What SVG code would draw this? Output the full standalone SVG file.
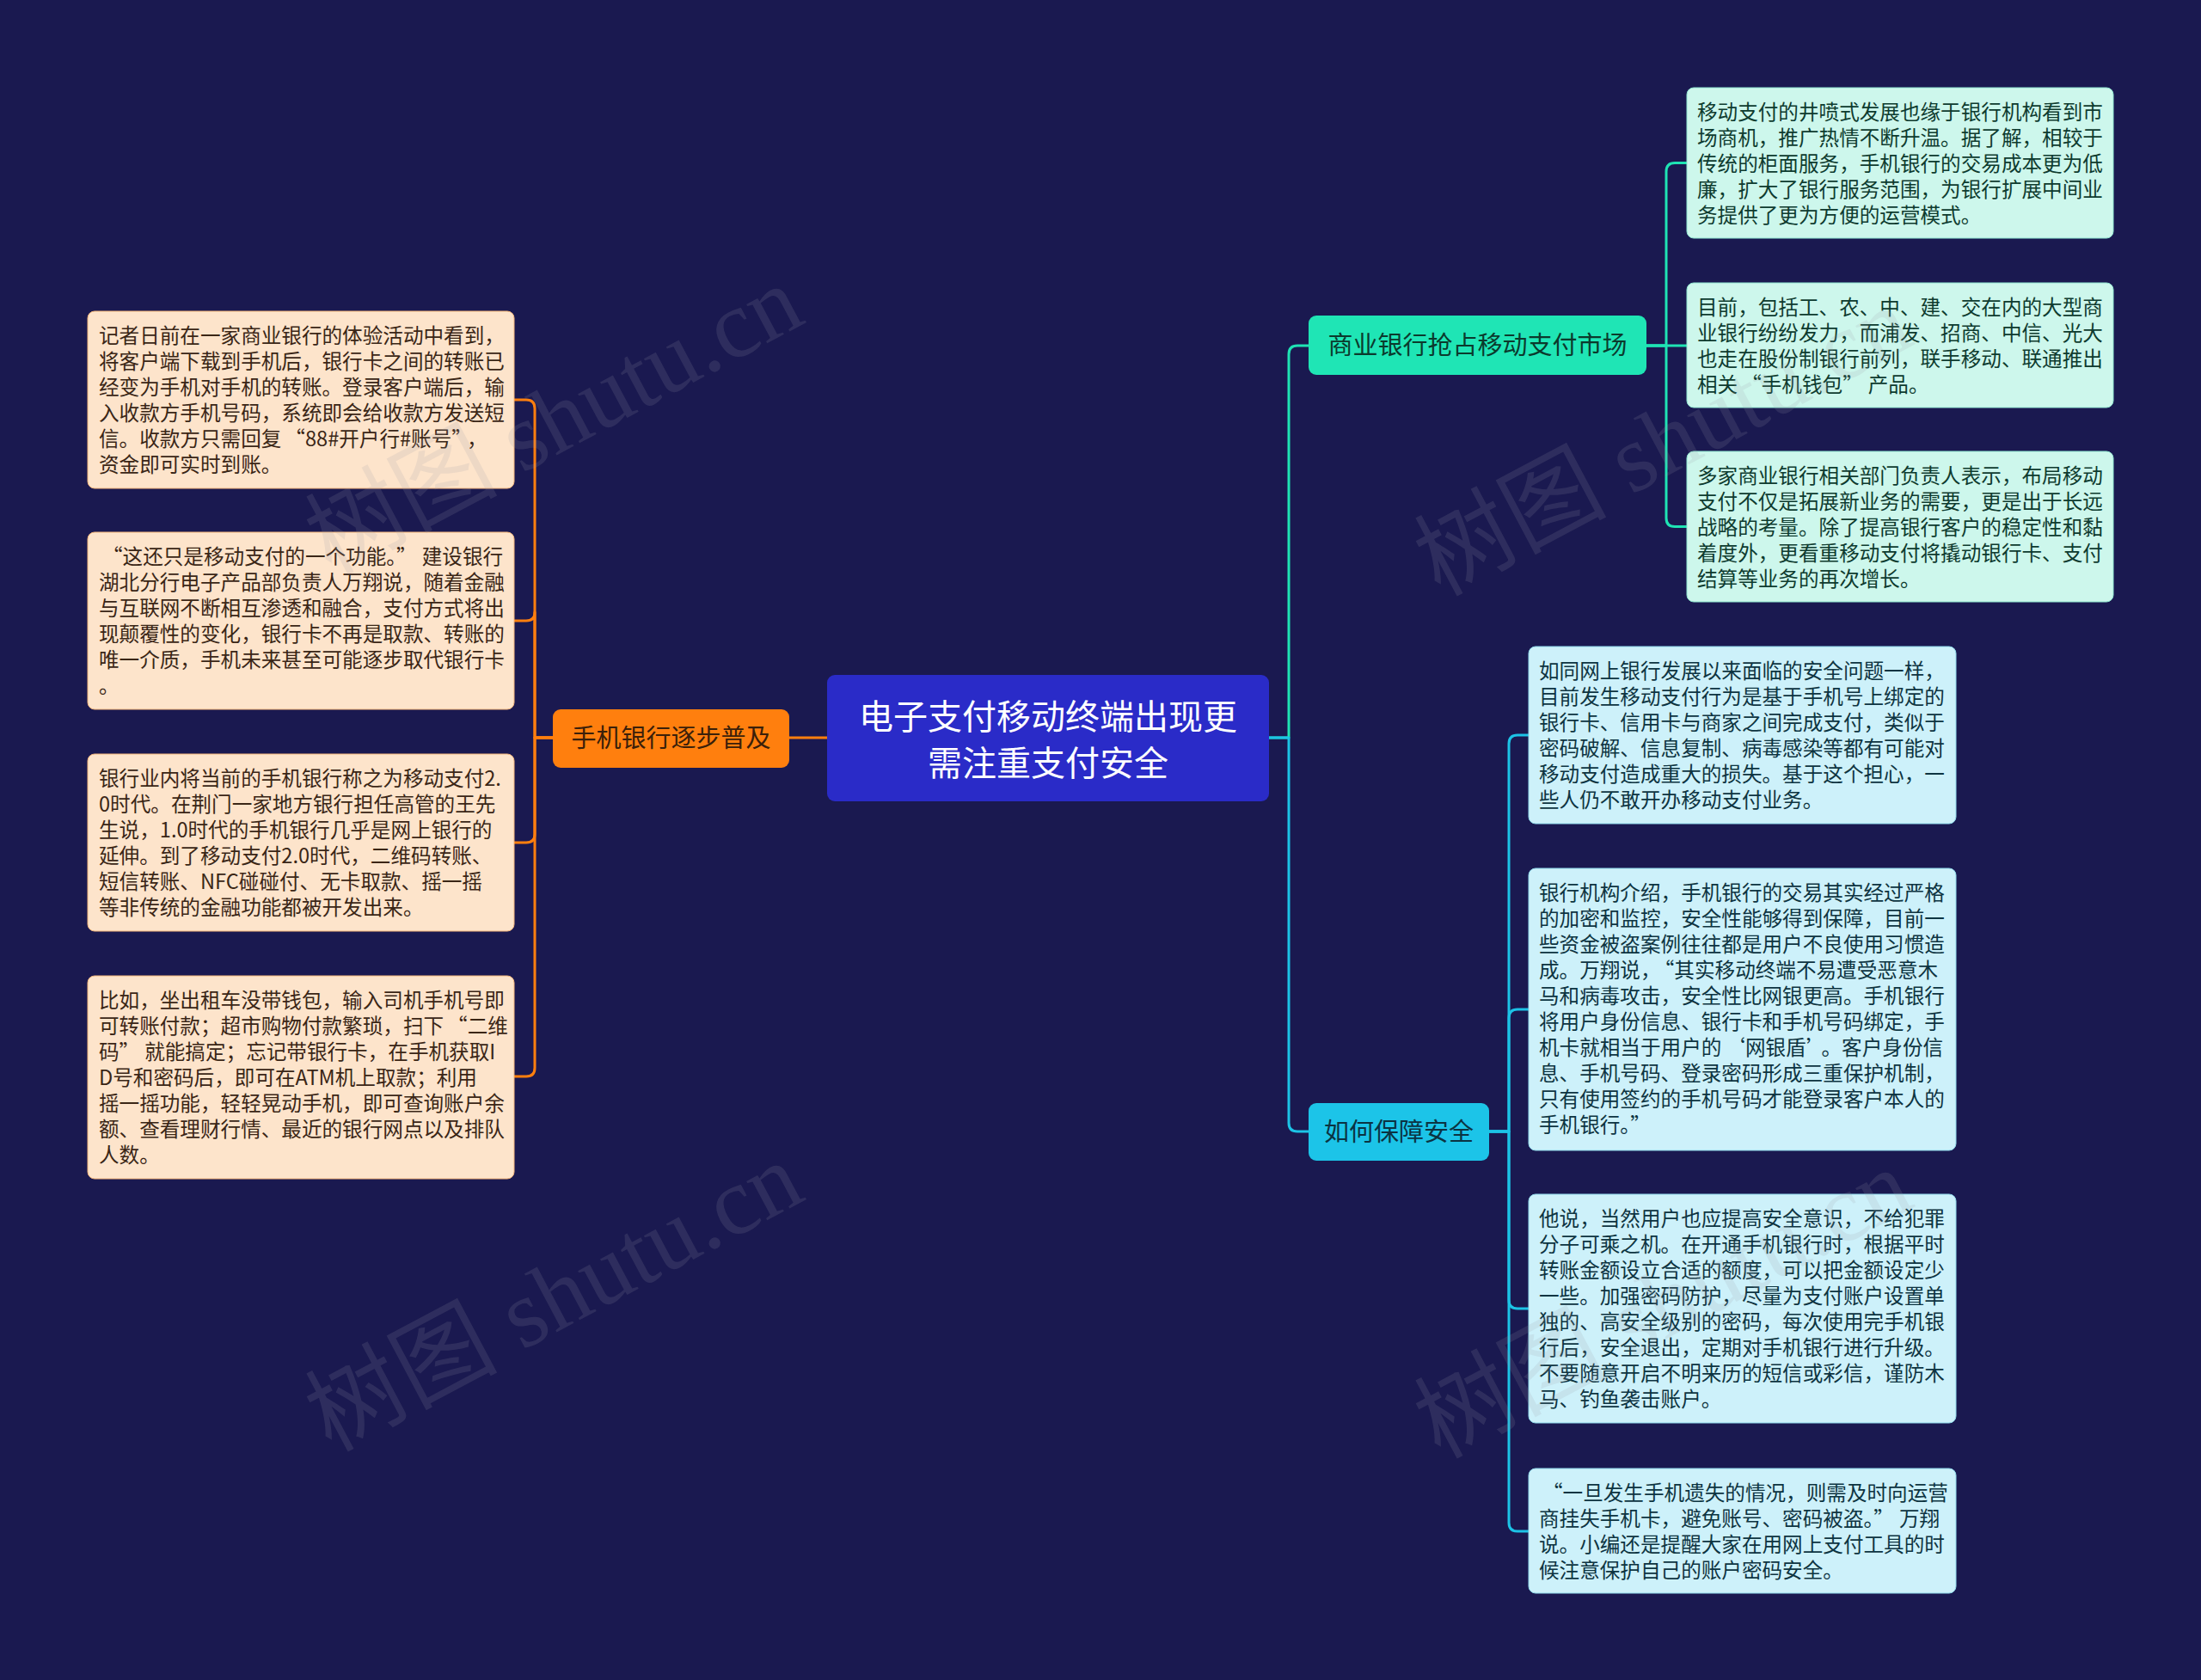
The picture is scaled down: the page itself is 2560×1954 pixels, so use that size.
<svg xmlns="http://www.w3.org/2000/svg" width="2560" height="1954" viewBox="0 0 2560 1954">
<style>
.t{font-family:"Noto Sans CJK SC","Noto Sans",sans-serif;font-size:23.6px}
.lt{fill:#3a2616}
.ut{fill:#0e3b2f}
.dt{fill:#0d3441}
.lb{fill:#fde4cb;stroke:#f3b57a;stroke-width:1}
.ub{fill:#cdf7ec;stroke:#8fe6cf;stroke-width:1}
.db{fill:#cdf1fa;stroke:#8fd9ea;stroke-width:1}
.c{fill:none;stroke-width:3;stroke-linecap:round;stroke-linejoin:round}
.co{stroke:#ff7f0e}
.cg{stroke:#1fe3b4}
.cc{stroke:#1cc3e6}
.wm{font-family:"Liberation Serif","Noto Sans CJK SC",serif;font-size:112px;fill:#9a9aa8;fill-opacity:0.16}
</style>
<rect width="2560" height="1954" fill="#1a1950"/>
<g id="connectors">
<path class="c co" d="M962 858H918"/>
<path class="c co" d="M643 858H622V475Q622 465 612 465H598"/>
<path class="c co" d="M643 858H622V712Q622 722 612 722H598"/>
<path class="c co" d="M643 858H622V970Q622 980 612 980H598"/>
<path class="c co" d="M643 858H622V1242Q622 1252 612 1252H598"/>
<path class="c cg" d="M1476 858H1499V412Q1499 402 1509 402H1522"/>
<path class="c cc" d="M1476 858H1499V1306Q1499 1316 1509 1316H1522"/>
<path class="c cg" d="M1915 402H1938V199.5Q1938 189.5 1948 189.5H1962"/>
<path class="c cg" d="M1915 402H1962"/>
<path class="c cg" d="M1915 402H1938V602.5Q1938 612.5 1948 612.5H1962"/>
<path class="c cc" d="M1732 1316H1755V865Q1755 855 1765 855H1778"/>
<path class="c cc" d="M1732 1316H1755V1184Q1755 1174 1765 1174H1778"/>
<path class="c cc" d="M1732 1316H1755V1512Q1755 1522 1765 1522H1778"/>
<path class="c cc" d="M1732 1316H1755V1771Q1755 1781 1765 1781H1778"/>
</g>
<g id="center">
<rect x="962" y="785" width="514" height="147" rx="9" fill="#2a2bc8"/>
<text font-family="Noto Sans CJK SC,sans-serif" font-size="40" fill="#ffffff" text-anchor="middle"><tspan x="1219" y="848">电子支付移动终端出现更</tspan><tspan x="1219" y="902">需注重支付安全</tspan></text>
</g>
<g id="branch-left">
<rect x="643" y="825" width="275" height="68" rx="9" fill="#ff7f0e"/>
<text x="780.5" y="869" font-family="Noto Sans CJK SC,sans-serif" font-size="29" fill="#3a200a" text-anchor="middle">手机银行逐步普及</text>
</g>
<g id="branch-r1">
<rect x="1522" y="367" width="393" height="69" rx="9" fill="#1fe5b5"/>
<text x="1718.5" y="412" font-family="Noto Sans CJK SC,sans-serif" font-size="29" fill="#0b3a2d" text-anchor="middle">商业银行抢占移动支付市场</text>
</g>
<g id="branch-r2">
<rect x="1522" y="1283" width="210" height="67" rx="9" fill="#1cc4e8"/>
<text x="1627" y="1327" font-family="Noto Sans CJK SC,sans-serif" font-size="29" fill="#0b3342" text-anchor="middle">如何保障安全</text>
</g>
<g id="l1">
<rect class="lb" x="102" y="362" width="496" height="206" rx="8"/>
<text class="t lt"><tspan x="115" y="399">记者日前在一家商业银行的体验活动中看到，</tspan><tspan x="115" dy="30">将客户端下载到手机后，银行卡之间的转账已</tspan><tspan x="115" dy="30">经变为手机对手机的转账。登录客户端后，输</tspan><tspan x="115" dy="30">入收款方手机号码，系统即会给收款方发送短</tspan><tspan x="115" dy="30">信。收款方只需回复<tspan dx="4">“</tspan>88#开户行#账号”<tspan dx="6">，</tspan></tspan><tspan x="115" dy="30">资金即可实时到账。</tspan></text>
</g>
<g id="l2">
<rect class="lb" x="102" y="619" width="496" height="206" rx="8"/>
<text class="t lt"><tspan x="115" y="656"><tspan dx="4">“</tspan>这还只是移动支付的一个功能。”<tspan dx="6">建设银行</tspan></tspan><tspan x="115" dy="30">湖北分行电子产品部负责人万翔说，随着金融</tspan><tspan x="115" dy="30">与互联网不断相互渗透和融合，支付方式将出</tspan><tspan x="115" dy="30">现颠覆性的变化，银行卡不再是取款、转账的</tspan><tspan x="115" dy="30">唯一介质，手机未来甚至可能逐步取代银行卡</tspan><tspan x="115" dy="30">。</tspan></text>
</g>
<g id="l3">
<rect class="lb" x="102" y="877" width="496" height="206" rx="8"/>
<text class="t lt"><tspan x="115" y="914">银行业内将当前的手机银行称之为移动支付2.</tspan><tspan x="115" dy="30">0时代。在荆门一家地方银行担任高管的王先</tspan><tspan x="115" dy="30">生说，1.0时代的手机银行几乎是网上银行的</tspan><tspan x="115" dy="30">延伸。到了移动支付2.0时代，二维码转账、</tspan><tspan x="115" dy="30">短信转账、NFC碰碰付、无卡取款、摇一摇</tspan><tspan x="115" dy="30">等非传统的金融功能都被开发出来。</tspan></text>
</g>
<g id="l4">
<rect class="lb" x="102" y="1135" width="496" height="236" rx="8"/>
<text class="t lt"><tspan x="115" y="1172">比如，坐出租车没带钱包，输入司机手机号即</tspan><tspan x="115" dy="30">可转账付款；超市购物付款繁琐，扫下<tspan dx="4">“</tspan>二维</tspan><tspan x="115" dy="30">码”<tspan dx="6">就能搞定；忘记带银行卡，在手机获取I</tspan></tspan><tspan x="115" dy="30">D号和密码后，即可在ATM机上取款；利用</tspan><tspan x="115" dy="30">摇一摇功能，轻轻晃动手机，即可查询账户余</tspan><tspan x="115" dy="30">额、查看理财行情、最近的银行网点以及排队</tspan><tspan x="115" dy="30">人数。</tspan></text>
</g>
<g id="ra">
<rect class="ub" x="1962" y="102" width="496" height="175" rx="8"/>
<text class="t ut"><tspan x="1974" y="139">移动支付的井喷式发展也缘于银行机构看到市</tspan><tspan x="1974" dy="30">场商机，推广热情不断升温。据了解，相较于</tspan><tspan x="1974" dy="30">传统的柜面服务，手机银行的交易成本更为低</tspan><tspan x="1974" dy="30">廉，扩大了银行服务范围，为银行扩展中间业</tspan><tspan x="1974" dy="30">务提供了更为方便的运营模式。</tspan></text>
</g>
<g id="rb">
<rect class="ub" x="1962" y="329" width="496" height="145" rx="8"/>
<text class="t ut"><tspan x="1974" y="366">目前，包括工、农、中、建、交在内的大型商</tspan><tspan x="1974" dy="30">业银行纷纷发力，而浦发、招商、中信、光大</tspan><tspan x="1974" dy="30">也走在股份制银行前列，联手移动、联通推出</tspan><tspan x="1974" dy="30">相关<tspan dx="4">“</tspan>手机钱包”<tspan dx="6">产品。</tspan></tspan></text>
</g>
<g id="rc">
<rect class="ub" x="1962" y="525" width="496" height="175" rx="8"/>
<text class="t ut"><tspan x="1974" y="562">多家商业银行相关部门负责人表示，布局移动</tspan><tspan x="1974" dy="30">支付不仅是拓展新业务的需要，更是出于长远</tspan><tspan x="1974" dy="30">战略的考量。除了提高银行客户的稳定性和黏</tspan><tspan x="1974" dy="30">着度外，更看重移动支付将撬动银行卡、支付</tspan><tspan x="1974" dy="30">结算等业务的再次增长。</tspan></text>
</g>
<g id="rd">
<rect class="db" x="1778" y="752" width="497" height="206" rx="8"/>
<text class="t dt"><tspan x="1790" y="789">如同网上银行发展以来面临的安全问题一样，</tspan><tspan x="1790" dy="30">目前发生移动支付行为是基于手机号上绑定的</tspan><tspan x="1790" dy="30">银行卡、信用卡与商家之间完成支付，类似于</tspan><tspan x="1790" dy="30">密码破解、信息复制、病毒感染等都有可能对</tspan><tspan x="1790" dy="30">移动支付造成重大的损失。基于这个担心，一</tspan><tspan x="1790" dy="30">些人仍不敢开办移动支付业务。</tspan></text>
</g>
<g id="re">
<rect class="db" x="1778" y="1010" width="497" height="328" rx="8"/>
<text class="t dt"><tspan x="1790" y="1047">银行机构介绍，手机银行的交易其实经过严格</tspan><tspan x="1790" dy="30">的加密和监控，安全性能够得到保障，目前一</tspan><tspan x="1790" dy="30">些资金被盗案例往往都是用户不良使用习惯造</tspan><tspan x="1790" dy="30">成。万翔说，<tspan dx="4">“</tspan>其实移动终端不易遭受恶意木</tspan><tspan x="1790" dy="30">马和病毒攻击，安全性比网银更高。手机银行</tspan><tspan x="1790" dy="30">将用户身份信息、银行卡和手机号码绑定，手</tspan><tspan x="1790" dy="30">机卡就相当于用户的<tspan dx="4">‘</tspan>网银盾’<tspan dx="6">。客户身份信</tspan></tspan><tspan x="1790" dy="30">息、手机号码、登录密码形成三重保护机制，</tspan><tspan x="1790" dy="30">只有使用签约的手机号码才能登录客户本人的</tspan><tspan x="1790" dy="30">手机银行。”</tspan></text>
</g>
<g id="rf">
<rect class="db" x="1778" y="1389" width="497" height="266" rx="8"/>
<text class="t dt"><tspan x="1790" y="1426">他说，当然用户也应提高安全意识，不给犯罪</tspan><tspan x="1790" dy="30">分子可乘之机。在开通手机银行时，根据平时</tspan><tspan x="1790" dy="30">转账金额设立合适的额度，可以把金额设定少</tspan><tspan x="1790" dy="30">一些。加强密码防护，尽量为支付账户设置单</tspan><tspan x="1790" dy="30">独的、高安全级别的密码，每次使用完手机银</tspan><tspan x="1790" dy="30">行后，安全退出，定期对手机银行进行升级。</tspan><tspan x="1790" dy="30">不要随意开启不明来历的短信或彩信，谨防木</tspan><tspan x="1790" dy="30">马、钓鱼袭击账户。</tspan></text>
</g>
<g id="rg">
<rect class="db" x="1778" y="1708" width="497" height="145" rx="8"/>
<text class="t dt"><tspan x="1790" y="1745"><tspan dx="4">“</tspan>一旦发生手机遗失的情况，则需及时向运营</tspan><tspan x="1790" dy="30">商挂失手机卡，避免账号、密码被盗。”<tspan dx="6">万翔</tspan></tspan><tspan x="1790" dy="30">说。小编还是提醒大家在用网上支付工具的时</tspan><tspan x="1790" dy="30">候注意保护自己的账户密码安全。</tspan></text>
</g>
<g id="watermarks">
<text class="wm" text-anchor="middle" transform="translate(645 490) rotate(-28)" y="36">树图 shutu.cn</text>
<text class="wm" text-anchor="middle" transform="translate(645 1510) rotate(-28)" y="36">树图 shutu.cn</text>
<text class="wm" text-anchor="middle" transform="translate(1935 515) rotate(-28)" y="36">树图 shutu.cn</text>
<text class="wm" text-anchor="middle" transform="translate(1935 1518) rotate(-28)" y="36">树图 shutu.cn</text>
</g>
</svg>
